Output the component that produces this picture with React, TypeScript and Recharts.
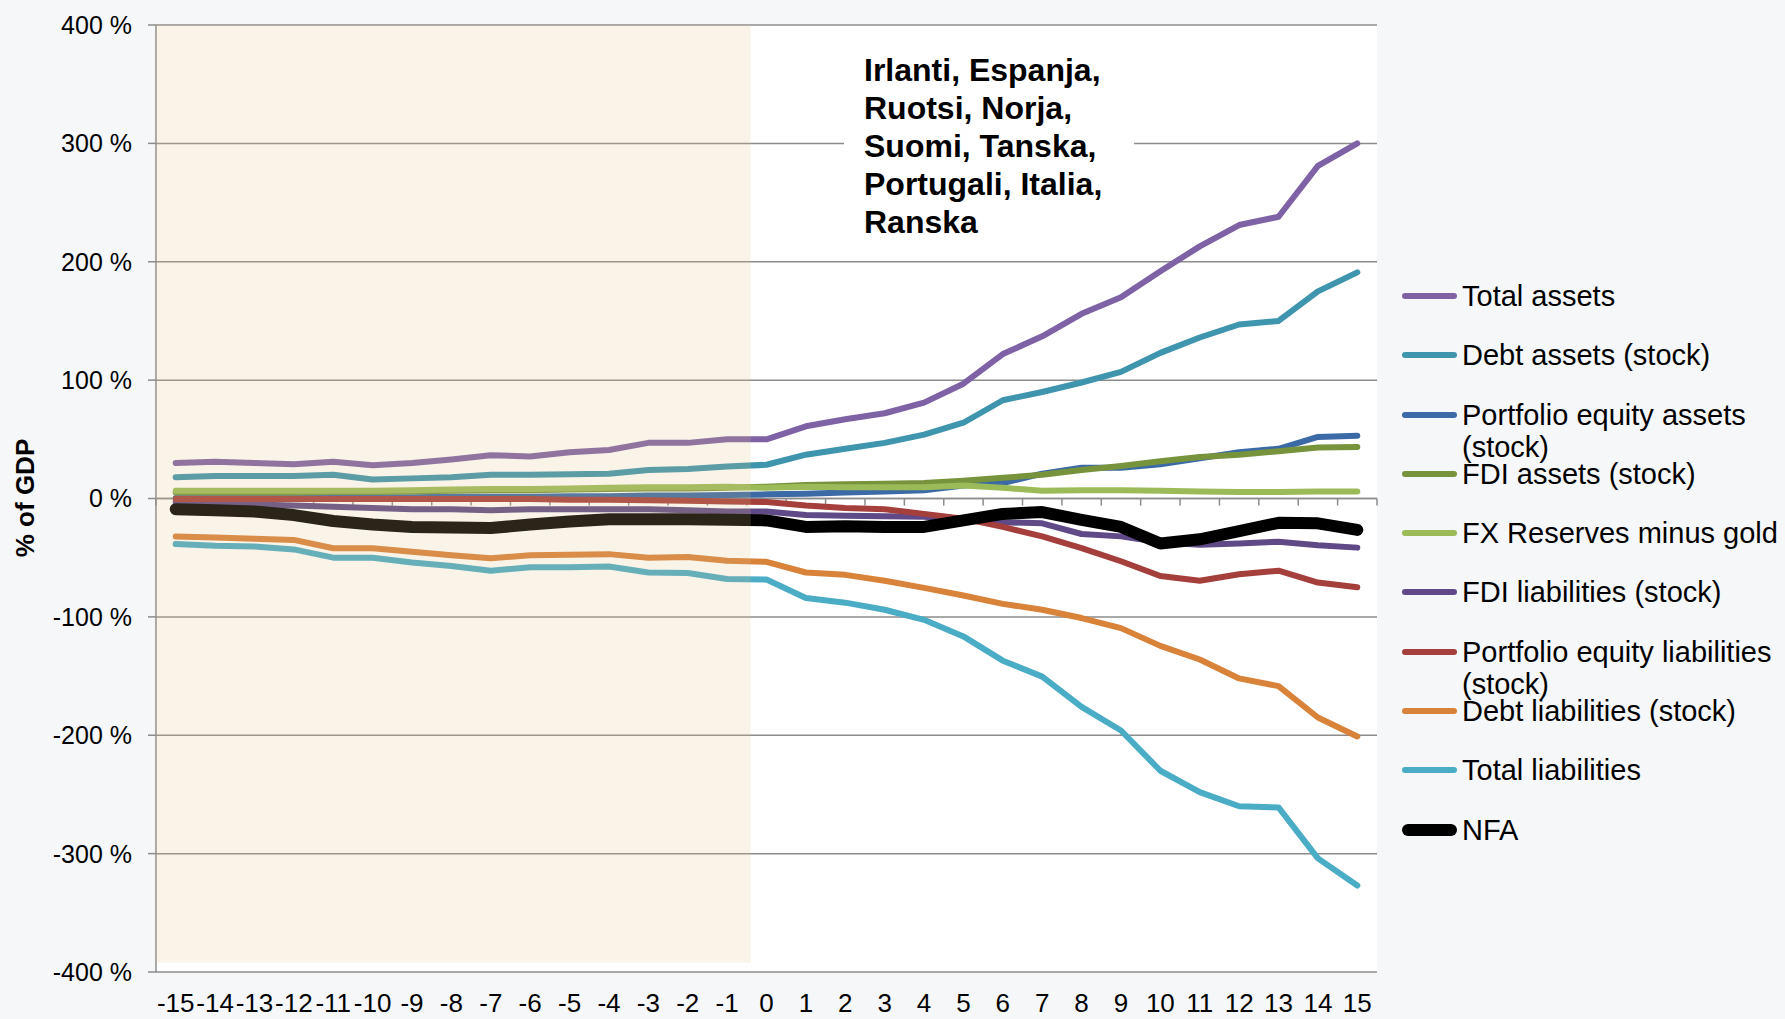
import {
  LineChart,
  Line,
  XAxis,
  YAxis,
  CartesianGrid,
  ReferenceLine,
  ReferenceArea,
} from 'recharts'

const W = 1785
const H = 1019

// years relative to the event (t = 0)
const years = [
  -15, -14, -13, -12, -11, -10, -9, -8, -7, -6, -5, -4, -3, -2, -1, 0, 1, 2, 3, 4, 5, 6, 7, 8, 9,
  10, 11, 12, 13, 14, 15,
]
const yTicks = [-400, -300, -200, -100, 0, 100, 200, 300, 400]

const totalAssets = [
  30, 31, 30, 29, 31, 28, 30, 33, 36.5, 35.5, 39, 41, 47, 47, 50, 50, 61, 67, 72, 81, 97, 122, 137,
  156, 170, 192, 213, 231, 238, 281, 300,
]
const debtAssets = [
  18, 19, 19, 19, 20, 16, 17, 18, 20, 20, 20.5, 21, 24, 25, 27, 28.5, 37, 42, 47, 54, 64, 83, 90, 98,
  107, 123, 136, 147, 150, 175, 191,
]
const pfEquityAssets = [
  0.5, 0.5, 0.5, 0.5, 1, 1, 1, 1.5, 1.5, 1.5, 2, 2, 2.5, 2.5, 3, 3.5, 4, 5, 6, 7, 11, 13, 21, 26, 26,
  29, 34, 39, 42, 52, 53,
]
const fdiAssets = [
  5, 5, 5, 5, 5.5, 5.5, 6, 6.5, 7, 7, 7.5, 8, 8.5, 8.5, 9, 10, 11.5, 12, 12.5, 13, 15, 17.5, 20, 24,
  27.5, 31.5, 35, 37, 40, 43, 43.5,
]
const fxReserves = [
  6.5, 6.5, 6.5, 6.5, 6.5, 6.5, 7, 7.5, 8, 8, 8.5, 9, 9.5, 9.5, 10, 9, 10, 9.5, 9.5, 9.5, 11, 9, 6.5,
  7, 7, 6.5, 6, 5.5, 5.5, 6, 6,
]
const fdiLiabilities = [
  -3, -4, -5, -6, -7, -8, -9, -9, -10, -9, -9, -9, -9, -10, -11, -11, -14, -14.5, -15, -15.5, -18,
  -20, -21, -30, -32, -37, -39, -38, -36.5, -39.5, -41.5,
]
const pfEquityLiabilities = [
  -0.5, -0.5, -0.5, -0.5, -0.5, -0.5, -0.5, -0.5, -0.5, -0.5, -1, -1, -1.5, -2, -2.5, -3, -6, -8, -9,
  -13, -17, -24, -32, -42, -53, -65.5, -69.5, -64, -61, -71, -75,
]
const debtLiabilities = [
  -32, -33, -34, -35, -42, -42, -45, -48, -50.5, -48, -47.5, -47, -50, -49.5, -52.5, -53.5, -62.5,
  -64.5, -69.5, -75.5, -82, -89, -94, -101, -109.5, -124.5, -136, -152, -158.5, -185, -201,
]
const totalLiabilities = [
  -38.5, -40, -40.5, -43, -50, -50, -54, -57, -61, -58, -58, -57.5, -62.5, -63, -68, -68.5, -84, -88,
  -94, -102.5, -116.5, -137, -150.5, -176, -196, -230, -248, -260, -261, -304, -327,
]
const nfa = [
  -9, -10, -11, -14, -19, -22, -24, -24.5, -25, -22, -19.5, -17.5, -17.5, -17.5, -18, -18.5, -24,
  -23.5, -24, -24, -18.5, -13, -11.5, -18, -24, -38, -34.5, -27.5, -20.5, -21, -26.5,
]

const countries = ['Irlanti, Espanja,', 'Ruotsi, Norja,', 'Suomi, Tanska,', 'Portugali, Italia,', 'Ranska']

const series = [
  { key: 'ta', name: 'Total assets', values: totalAssets, color: '#7f62a6', width: 6 },
  { key: 'da', name: 'Debt assets (stock)', values: debtAssets, color: '#3e95ad', width: 6 },
  { key: 'pea', name: 'Portfolio equity assets (stock)', values: pfEquityAssets, color: '#3b6aa6', width: 6 },
  { key: 'fa', name: 'FDI assets (stock)', values: fdiAssets, color: '#77933c', width: 6 },
  { key: 'fx', name: 'FX Reserves minus gold', values: fxReserves, color: '#9bbb59', width: 6 },
  { key: 'fl', name: 'FDI liabilities (stock)', values: fdiLiabilities, color: '#5f4a87', width: 6 },
  { key: 'pel', name: 'Portfolio equity liabilities (stock)', values: pfEquityLiabilities, color: '#a53f3c', width: 6 },
  { key: 'dl', name: 'Debt liabilities (stock)', values: debtLiabilities, color: '#d8823a', width: 6 },
  { key: 'tl', name: 'Total liabilities', values: totalLiabilities, color: '#4bacc6', width: 6 },
  { key: 'nfa', name: 'NFA', values: nfa, color: '#000000', width: 12 },
]

const rows = years.map((t, i) => {
  const row: Record<string, number> = { t }
  series.forEach((s) => {
    row[s.key] = s.values[i]
  })
  return row
})

// category boundaries for the little tick marks on the zero line
const boundaries = [...years.map((t) => t - 0.5), years[years.length - 1] + 0.5]

const gridColor = '#8c8c8c'

export default function App() {
  return (
    <div
      style={{
        position: 'absolute',
        left: 0,
        top: 0,
        width: W,
        height: H,
        background: '#f5f7f9',
        fontFamily: '"Liberation Sans", Arial, sans-serif',
        color: '#000',
        overflow: 'hidden',
      }}
    >
      <LineChart width={W} height={H} data={rows} margin={{ top: 25, right: 408, bottom: 7, left: 0 }}>
        <CartesianGrid vertical={false} stroke={gridColor} strokeWidth={1.5} fill="#ffffff" />
        <XAxis
          type="number"
          dataKey="t"
          domain={[-15.5, 15.5]}
          ticks={years}
          interval={0}
          allowDataOverflow
          axisLine={false}
          tickLine={false}
          tickSize={8}
          tickMargin={14}
          height={40}
          tick={{ fontSize: 26, fill: '#000' }}
        />
        <YAxis
          type="number"
          domain={[-400, 400]}
          ticks={yTicks}
          interval={0}
          width={156}
          axisLine={{ stroke: gridColor, strokeWidth: 1.5 }}
          tickLine={{ stroke: gridColor, strokeWidth: 1.5 }}
          tickSize={8}
          tickMargin={16}
          tick={{ fontSize: 25, fill: '#000' }}
          tickFormatter={(v: number) => `${v} %`}
        />
        <ReferenceLine y={0} stroke={gridColor} strokeWidth={1.5} />
        {boundaries.map((b) => (
          <ReferenceLine
            key={b}
            segment={[
              { x: b, y: 0 },
              { x: b, y: -6 },
            ]}
            stroke={gridColor}
            strokeWidth={1.5}
          />
        ))}
        {series.map((s) => (
          <Line
            key={s.key}
            type="linear"
            dataKey={s.key}
            name={s.name}
            stroke={s.color}
            strokeWidth={s.width}
            strokeLinejoin="round"
            strokeLinecap="round"
            dot={false}
            activeDot={false}
            isAnimationActive={false}
          />
        ))}
        <ReferenceArea
          x1={-15.5}
          x2={-0.4}
          y1={-392}
          y2={400}
          fill="#ddbd83"
          fillOpacity={0.19}
          stroke="none"
          zIndex={900}
        />
      </LineChart>

      {/* y axis title */}
      <div
        style={{
          position: 'absolute',
          left: 25,
          top: 498,
          transform: 'translate(-50%, -50%) rotate(-90deg)',
          fontSize: 26,
          fontWeight: 'bold',
          whiteSpace: 'nowrap',
        }}
      >
        % of GDP
      </div>

      {/* country note */}
      <div
        style={{
          position: 'absolute',
          left: 844,
          top: 40,
          width: 290,
          height: 210,
          background: '#ffffff',
          boxSizing: 'border-box',
          paddingLeft: 20,
          paddingTop: 11,
          fontSize: 32,
          fontWeight: 'bold',
          lineHeight: '38px',
          whiteSpace: 'nowrap',
        }}
      >
        {countries.map((c) => (
          <div key={c}>{c}</div>
        ))}
      </div>

      {/* legend */}
      <div style={{ position: 'absolute', left: 1397, top: 280, width: 388 }}>
        {series.map((s) => (
          <div key={s.key} style={{ position: 'relative', height: 59.3 }}>
            <div
              style={{
                position: 'absolute',
                left: 5,
                top: 16 - s.width / 2,
                width: 55,
                height: s.width,
                background: s.color,
                borderRadius: s.width / 2,
              }}
            />
            <div
              style={{
                position: 'absolute',
                left: 65,
                top: 0,
                width: 323,
                fontSize: 29,
                lineHeight: '32px',
              }}
            >
              {s.name}
            </div>
          </div>
        ))}
      </div>
    </div>
  )
}
